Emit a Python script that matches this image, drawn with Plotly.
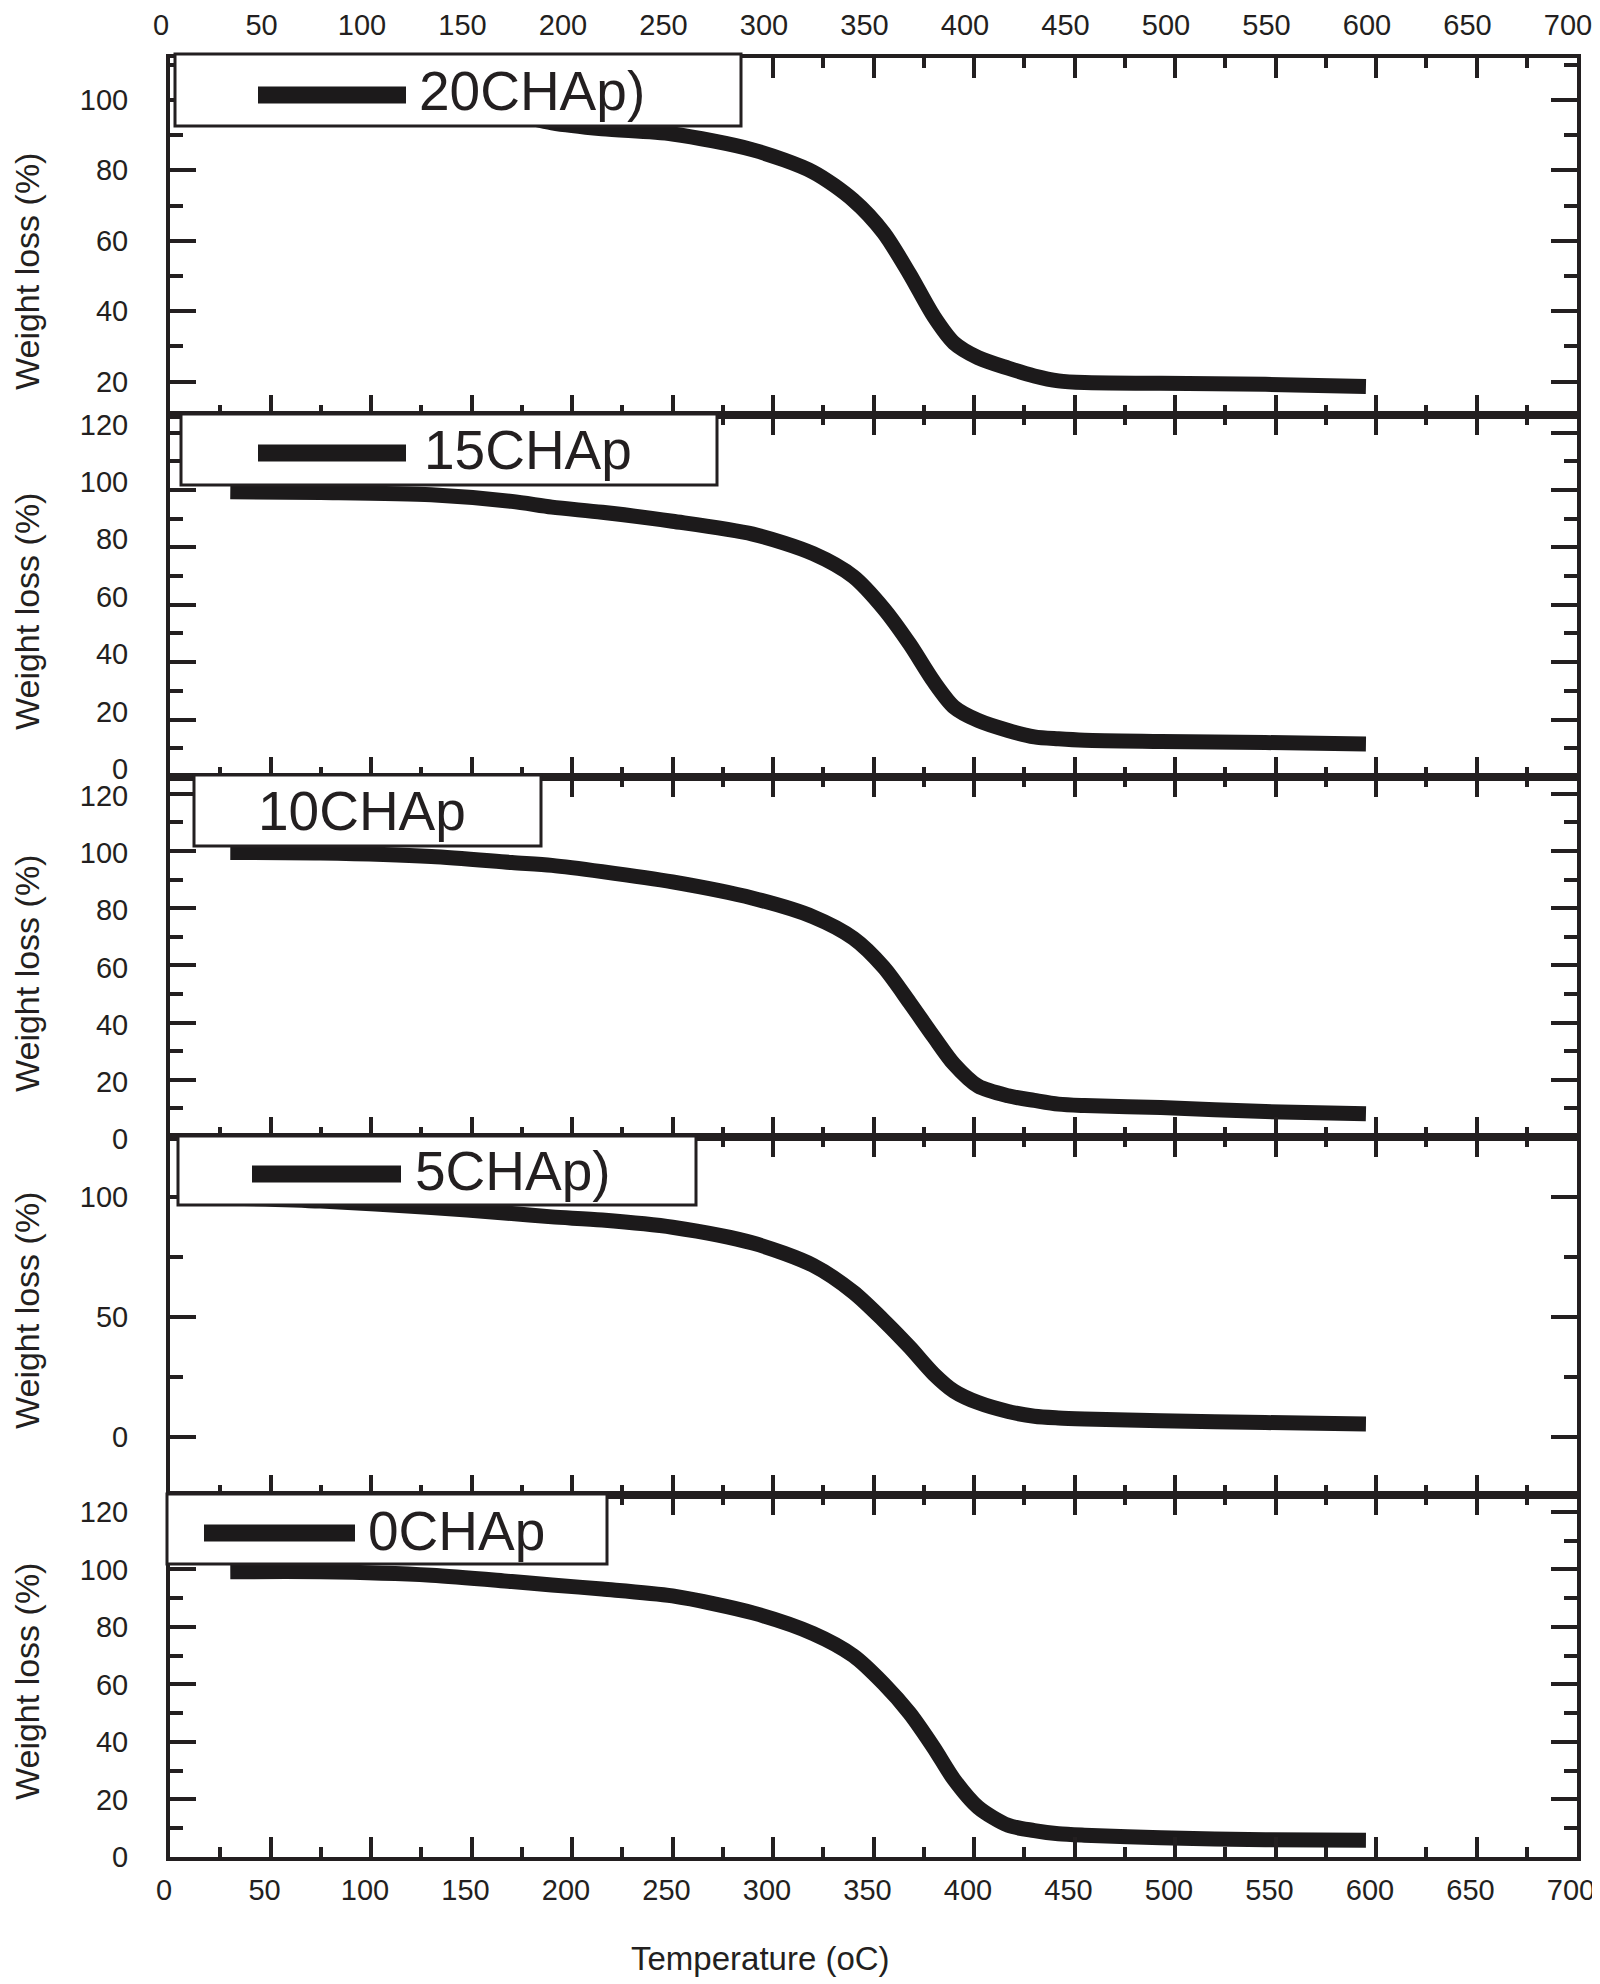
import plotly.graph_objects as go

# ---------------- data ----------------
TEMPERATURE = [30, 75, 130, 170, 190, 215, 250, 290, 320, 340, 355, 368, 380,
               390, 402, 417, 430, 442, 455, 493, 545, 595]

W_20CHAP = [100.0, 99.5, 98.5, 96.0, 93.5, 91.8, 90.3, 85.8, 79.5, 71.5, 62.3, 50.5,
            38.5, 31.0, 26.8, 23.8, 21.6, 20.2, 19.7, 19.5, 19.2, 18.6]
W_15CHAP = [99.4, 99.1, 98.3, 96.0, 94.0, 92.2, 89.1, 84.6, 77.8, 69.8, 58.7, 46.3,
            33.2, 24.4, 19.7, 16.2, 14.0, 13.3, 12.8, 12.4, 12.0, 11.5]
W_10CHAP = [99.5, 99.3, 98.1, 96.0, 95.0, 92.8, 89.2, 83.5, 77.0, 69.5, 59.4, 47.0,
            35.0, 25.5, 17.8, 14.4, 12.8, 11.5, 11.0, 10.3, 8.9, 8.1]
W_5CHAP = [99.5, 98.2, 95.5, 93.0, 91.6, 90.3, 87.3, 80.7, 71.4, 60.2, 48.5, 37.3,
           26.1, 19.0, 14.2, 10.5, 8.5, 7.8, 7.4, 6.6, 5.9, 5.3]
W_0CHAP = [99.2, 99.2, 98.0, 95.8, 94.6, 93.2, 90.8, 84.9, 77.7, 70.0, 60.3, 50.0,
           38.0, 27.0, 17.3, 11.0, 9.2, 8.1, 7.6, 6.7, 6.0, 5.8]

SERIES_NAMES = ["20CHAp)", "15CHAp", "10CHAp", "5CHAp)", "0CHAp"]
SERIES_VALUES = [W_20CHAP, W_15CHAP, W_10CHAP, W_5CHAP, W_0CHAP]

X_TICKS = list(range(0, 701, 50))
Y_TITLE = "Weight loss (%)"
X_TITLE = "Temperature (oC)"

# ---------------- layout constants ----------------
# the page body has an 8 px margin, so the figure is drawn 8 px right/down
OFF = 8
W, H = 1600 - OFF, 1984 - OFF
ML, MR, MT, MB = 170 - OFF, 23, 58 - OFF, 127
PW, PH = W - ML - MR, H - MT - MB
INK = "#231f20"
FONT = "Liberation Sans, Arial, sans-serif"


def px_x(px):
    """screen pixel -> paper x"""
    return (px - OFF - ML) / PW


def px_y(py):
    """screen pixel -> paper y"""
    return (H - MB - (py - OFF)) / PH


# panel vertical boundaries in screen pixels (top, bottom)
PANELS = [(58, 415), (415, 777), (777, 1137), (1137, 1495), (1495, 1857)]
Y_RANGES = [[10.5, 111.9], [0, 126.1], [0, 125.9], [-24.3, 124.9], [0, 125.9]]
Y_DTICK = [20, 20, 20, 50, 20]
Y_MINOR = [10, 10, 10, 25, 10]
Y_LABEL_SHIFT = [0, -8, 2, 0, 0]   # pixels, positive = downwards
TITLE_Y = [272, 612, 974, 1311, 1682]

fig = go.Figure()

for i, (name, vals) in enumerate(zip(SERIES_NAMES, SERIES_VALUES)):
    n = "" if i == 0 else str(i + 1)
    fig.add_trace(go.Scatter(
        x=TEMPERATURE, y=vals, mode="lines", name=name,
        line=dict(color="#1c1a1b", width=15, shape="spline", smoothing=0.8),
        xaxis="x" + n, yaxis="y" + n, showlegend=False,
    ))

layout = dict(
    width=W, height=H,
    margin=dict(l=ML, r=MR, t=MT, b=MB, autoexpand=False),
    paper_bgcolor="white", plot_bgcolor="white",
    font=dict(family=FONT, color=INK, size=29),
    showlegend=False,
)

for i, (top, bot) in enumerate(PANELS):
    n = "" if i == 0 else str(i + 1)
    dom = [max(0.0, px_y(bot)), min(1.0, px_y(top))]
    side = "top" if i == 0 else "bottom"
    show_lbl = i in (0, 4)
    layout["xaxis" + n] = dict(
        domain=[0, 1], range=[0, 700], anchor="y" + n, side=side,
        tickvals=X_TICKS, showticklabels=show_lbl, automargin=False,
        ticks="inside", ticklen=20, tickwidth=4, tickcolor=INK,
        minor=dict(ticks="inside", ticklen=10, tickwidth=4, dtick=25, tick0=0, tickcolor=INK),
        showline=True, linewidth=4, linecolor=INK, mirror="ticks",
        showgrid=False, zeroline=False,
        ticklabelstandoff=7 if i == 0 else 4,
        ticklabelshift=-9 if i == 0 else -6,
        tickfont=dict(family=FONT, size=29, color=INK),
        **({} if i == 0 else {"matches": "x"}),
    )
    layout["yaxis" + n] = dict(
        domain=dom, range=Y_RANGES[i], anchor="x" + n, automargin=False,
        tick0=0, dtick=Y_DTICK[i],
        ticks="inside", ticklen=26, tickwidth=4, tickcolor=INK,
        minor=dict(ticks="inside", ticklen=13, tickwidth=4, dtick=Y_MINOR[i], tick0=0, tickcolor=INK),
        showline=True, linewidth=4, linecolor=INK, mirror="ticks",
        showgrid=False, zeroline=False,
        ticklabelstandoff=32, ticklabelshift=Y_LABEL_SHIFT[i],
        tickfont=dict(family=FONT, size=29, color=INK),
    )

# legend boxes (white frames), sample lines and labels — screen pixels
BOXES = [(175, 741, 54, 126), (181, 717, 414, 485), (194, 541, 775, 846),
         (178, 696, 1136, 1205), (167, 607, 1494, 1564)]
SAMPLES = [(258, 406, 95), (258, 406, 453), None, (252, 401, 1174), (204, 355, 1533)]
LABEL_POS = [(417, 91), (422, 450), (256, 811), (413, 1171), (366, 1531)]

shapes = []
for (x0, x1, y0, y1) in BOXES:
    shapes.append(dict(type="rect", xref="paper", yref="paper",
                       x0=px_x(x0), x1=px_x(x1), y0=px_y(y1), y1=px_y(y0),
                       fillcolor="white", line=dict(color=INK, width=3), layer="above"))
for s in SAMPLES:
    if s is None:
        continue
    x0, x1, yy = s
    shapes.append(dict(type="line", xref="paper", yref="paper",
                       x0=px_x(x0), x1=px_x(x1), y0=px_y(yy), y1=px_y(yy),
                       line=dict(color="#1c1a1b", width=17), layer="above"))
layout["shapes"] = shapes

annotations = []
for name, (lx, ly) in zip(SERIES_NAMES, LABEL_POS):
    annotations.append(dict(text=name, xref="paper", yref="paper",
                            x=px_x(lx), y=px_y(ly), xanchor="left", yanchor="middle",
                            showarrow=False, font=dict(family=FONT, size=55, color=INK)))
for ty in TITLE_Y:
    annotations.append(dict(text=Y_TITLE, xref="paper", yref="paper",
                            x=px_x(27), y=px_y(ty), xanchor="center", yanchor="middle",
                            textangle=-90, showarrow=False,
                            font=dict(family=FONT, size=34, color=INK)))
annotations.append(dict(text=X_TITLE, xref="paper", yref="paper",
                        x=px_x(760), y=px_y(1958), xanchor="center", yanchor="middle",
                        showarrow=False, font=dict(family=FONT, size=33, color=INK)))
layout["annotations"] = annotations

fig.update_layout(**layout)
fig.write_html("out.html")
